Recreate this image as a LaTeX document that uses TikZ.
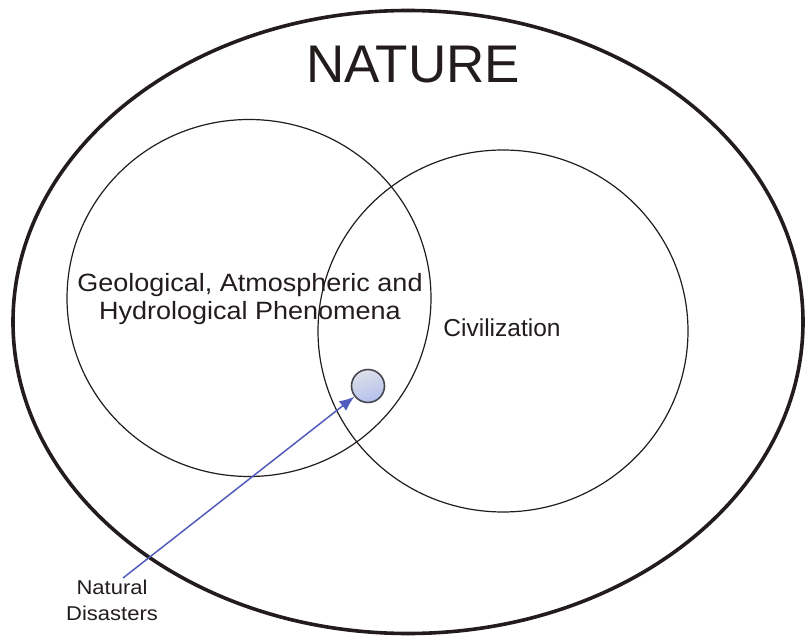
\documentclass[tikz,border=0pt]{standalone}
\usepackage{fontspec}
\usepackage{graphicx}
\setmainfont{Liberation Sans}
\usetikzlibrary{shapes.geometric,arrows.meta}

\definecolor{inkline}{RGB}{35,28,28}
\definecolor{arrowblue}{RGB}{82,92,188}
\definecolor{dotedge}{RGB}{70,70,80}
\definecolor{dotlight}{RGB}{222,224,232}
\definecolor{dotblue}{RGB}{178,192,236}

\tikzset{
  outerset/.style={ellipse, draw=inkline, line width=3.6pt, inner sep=0pt},
  innerset/.style={ellipse, draw=inkline, line width=1.2pt, inner sep=0pt},
  hazard/.style={circle, draw=dotedge, line width=1.6pt, inner sep=0pt,
    minimum size=33pt, shading=axis, top color=dotlight, bottom color=dotblue,
    shading angle=20},
  label/.style={inner sep=0pt, text=inkline, align=center},
  pointer/.style={arrowblue, line width=1.5pt, -{Latex[length=15pt,width=12pt]}}
}

\begin{document}
\begin{tikzpicture}[x=1pt, y=-1pt]
  \useasboundingbox (0,0) rectangle (807,639);

  % the three sets
  \node[outerset, minimum width=790pt, minimum height=623pt] (nature) at (408,322) {};
  \node[innerset, minimum width=364pt, minimum height=357pt] (geo) at (249,298) {};
  \node[innerset, minimum width=370pt, minimum height=362pt] (civ) at (503,331) {};

  % set names
  \node[label, anchor=base, font=\fontsize{53}{60}\selectfont] (natureText) at (413,83) {NATURE};
  \node[label, anchor=north, font=\fontsize{25}{28}\selectfont] (geoText) at (250,273.5)
    {\scalebox{1.08}[1]{Geological, Atmospheric and}\\\scalebox{1.08}[1]{Hydrological Phenomena}};
  \node[label, anchor=base, font=\fontsize{24.5}{28}\selectfont] (civText) at (502,337) {Civilization};

  % the overlap where disasters happen
  \node[hazard] (dis) at (368,386) {};

  \node[label, anchor=north, font=\fontsize{20}{26}\selectfont] (disText) at (112,579.5)
    {\scalebox{1.1}[1]{Natural}\\\scalebox{1.1}[1]{Disasters}};
  \coordinate (tail) at (123,578);
  \draw[pointer] (tail) -- (dis);
\end{tikzpicture}
\end{document}
